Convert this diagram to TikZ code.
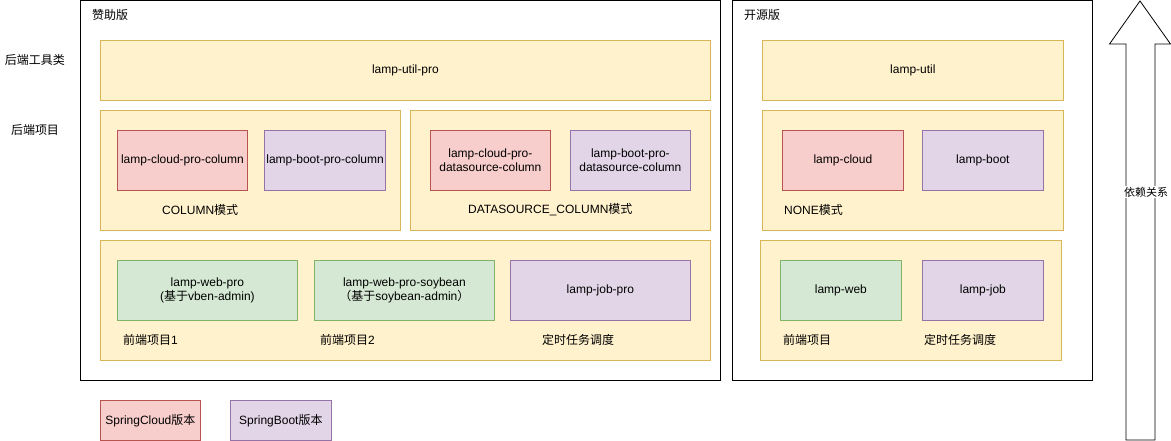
\documentclass[tikz,border=0pt]{standalone}
\usepackage{fontspec}
\setmainfont{Liberation Sans}
\newfontfamily\cjk{Noto Sans CJK SC}
\newcommand{\zh}[1]{{\cjk #1}}
\definecolor{yfill}{HTML}{FFF2CC}
\definecolor{ydraw}{HTML}{D6B656}
\definecolor{rfill}{HTML}{F8CECC}
\definecolor{rdraw}{HTML}{B85450}
\definecolor{pfill}{HTML}{E1D5E7}
\definecolor{pdraw}{HTML}{9673A6}
\definecolor{gfill}{HTML}{D5E8D4}
\definecolor{gdraw}{HTML}{82B366}
\begin{document}
\begin{tikzpicture}[x=1pt,y=-1pt,font=\fontsize{12}{14.5}\selectfont,
  base/.style={draw, rectangle, anchor=north west, inner sep=2pt, align=center, line width=0.8pt},
  frame/.style={base, draw=black, fill=white},
  ybox/.style={base, fill=yfill, draw=ydraw},
  rbox/.style={base, fill=rfill, draw=rdraw},
  pbox/.style={base, fill=pfill, draw=pdraw},
  gbox/.style={base, fill=gfill, draw=gdraw},
  lbl/.style={anchor=west, inner sep=0}]
\useasboundingbox (0,0) rectangle (1171,441);

% left labels
\node[anchor=center, inner sep=0] (lt1) at (35,60) {\zh{后端工具类}};
\node[anchor=center, inner sep=0] (lt2) at (35,130) {\zh{后端项目}};

% sponsor frame
\node[frame, minimum width=640, minimum height=379.5] (spon) at (80,0.5) {};
\node[lbl] (sponl) at (92,15) {\zh{赞助版}};
\node[ybox, minimum width=610, minimum height=60] (utilpro) at (100,40) {lamp-util-pro};
\node[ybox, minimum width=300, minimum height=120] (colbox) at (100,110) {};
\node[rbox, minimum width=130, minimum height=60] (cloudcol) at (117,130) {lamp-cloud-pro-column};
\node[pbox, minimum width=120, minimum height=60] (bootcol) at (264,130) {lamp-boot-pro-column};
\node[lbl] (coll) at (162,210) {COLUMN\zh{模式}};
\node[ybox, minimum width=300, minimum height=120] (dsbox) at (410,110) {};
\node[rbox, minimum width=120, minimum height=60] (cloudds) at (430,130) {lamp-cloud-pro-\\datasource-column};
\node[pbox, minimum width=120, minimum height=60] (bootds) at (570,130) {lamp-boot-pro-\\datasource-column};
\node[lbl] (dsl) at (468,210) {DATASOURCE\_COLUMN\zh{模式}};
\node[ybox, minimum width=610, minimum height=120] (febox) at (100,240) {};
\node[gbox, minimum width=180, minimum height=60] (webpro) at (117,260) {lamp-web-pro\\(\zh{基于}vben-admin)};
\node[gbox, minimum width=180, minimum height=60] (soy) at (314,260) {lamp-web-pro-soybean\\\zh{（基于}soybean-admin\zh{）}};
\node[pbox, minimum width=180, minimum height=60] (jobpro) at (510,260) {lamp-job-pro};
\node[lbl] (fe1) at (123,340) {\zh{前端项目}1};
\node[lbl] (fe2) at (320,340) {\zh{前端项目}2};
\node[lbl] (jobl) at (542,340) {\zh{定时任务调度}};

% open source frame
\node[frame, minimum width=360, minimum height=379.5] (open) at (732,0.5) {};
\node[lbl] (openl) at (744,15) {\zh{开源版}};
\node[ybox, minimum width=301, minimum height=60] (util) at (762,40) {lamp-util};
\node[ybox, minimum width=301, minimum height=120] (nonebox) at (762,110) {};
\node[rbox, minimum width=121, minimum height=60] (cloud) at (782,130) {lamp-cloud};
\node[pbox, minimum width=121, minimum height=60] (boot) at (922,130) {lamp-boot};
\node[lbl] (nonel) at (784,210) {NONE\zh{模式}};
\node[ybox, minimum width=301, minimum height=120] (febox2) at (760,240) {};
\node[gbox, minimum width=121, minimum height=60] (web) at (780,260) {lamp-web};
\node[pbox, minimum width=121, minimum height=60] (job) at (922,260) {lamp-job};
\node[lbl] (fe3) at (783,340) {\zh{前端项目}};
\node[lbl] (jobl2) at (924,340) {\zh{定时任务调度}};

% legend
\node[rbox, minimum width=100, minimum height=40] (legc) at (100,400) {SpringCloud\zh{版本}};
\node[pbox, minimum width=101, minimum height=40] (legb) at (230,400) {SpringBoot\zh{版本}};

% dependency arrow
\draw[line width=0.8pt, fill=white] (1140,1) -- (1170.5,44) -- (1155,44) -- (1155,440) -- (1126,440) -- (1126,44) -- (1109.5,44) -- cycle;
\node[fill=white, inner sep=1pt, font=\cjk\fontsize{11}{13}\selectfont] (dep) at (1146,192) {依赖关系};
\end{tikzpicture}
\end{document}
